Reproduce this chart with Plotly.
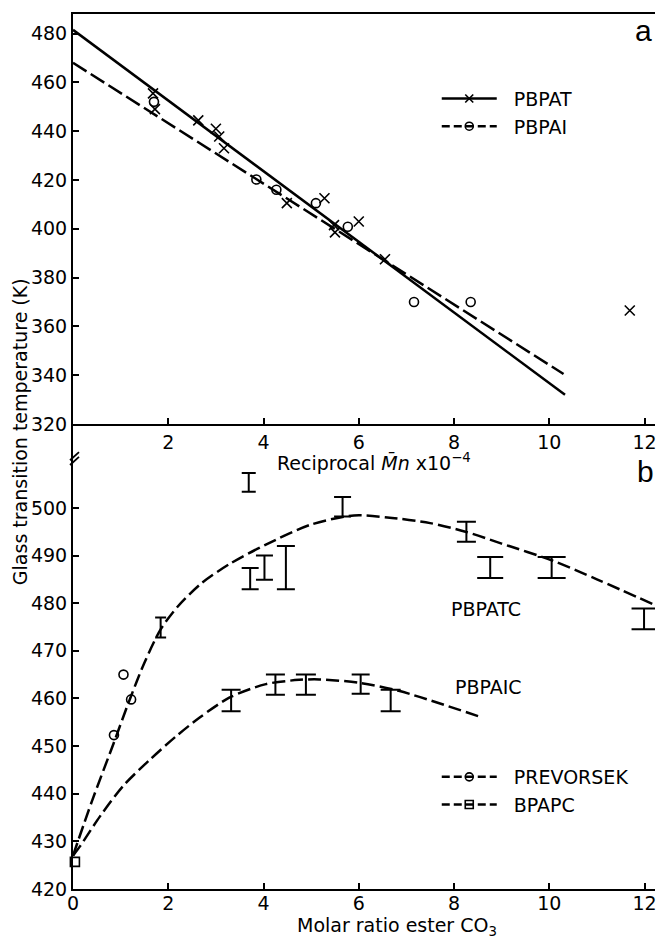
import plotly.graph_objects as go

# ---------------- Panel a : Tg vs reciprocal Mn ----------------
PBPAT_X = [1.68, 1.72, 2.63, 3.00, 3.07, 3.17, 4.49, 5.28, 5.48, 5.50, 6.00, 6.55, 11.69]
PBPAT_Y = [455.5, 449.0, 444.4, 441.0, 437.8, 433.0, 410.5, 412.5, 401.5, 398.5, 403.0, 387.5, 366.5]
PBPAI_X = [1.70, 3.85, 4.27, 5.10, 5.77, 7.16, 8.35]
PBPAI_Y = [452.0, 420.2, 416.0, 410.5, 400.8, 370.0, 370.0]
PBPAT_FIT_X = [0.0, 10.33]
PBPAT_FIT_Y = [481.5, 332.0]
PBPAI_FIT_X = [0.0, 10.30]
PBPAI_FIT_Y = [468.0, 340.5]

# ---------------- Panel b : Tg vs molar ratio ester/CO3 ----------------
PBPATC_X = [1.84, 3.69, 3.72, 4.02, 4.47, 5.66, 8.26, 8.76, 10.05, 11.99]
PBPATC_LO = [472.8, 503.4, 482.9, 484.9, 482.9, 498.2, 492.9, 485.3, 485.3, 474.5]
PBPATC_HI = [477.0, 507.3, 487.4, 490.0, 492.0, 502.3, 497.1, 489.7, 489.7, 478.9]
PBPAIC_X = [3.32, 4.25, 4.89, 6.04, 6.67]
PBPAIC_LO = [457.3, 460.8, 460.8, 461.0, 457.3]
PBPAIC_HI = [461.8, 465.0, 465.0, 465.0, 461.8]
PBPATC_CURVE_X = [0.0, 0.4, 0.85, 1.2, 1.5, 1.84, 2.2, 2.7, 3.3, 4.05, 5.0, 5.9, 6.6, 7.5, 8.24, 9.0, 10.05, 11.0, 12.22]
PBPATC_CURVE_Y = [427.0, 438.5, 450.5, 460.0, 467.5, 474.5, 479.3, 484.2, 488.3, 492.3, 496.5, 498.4, 498.0, 496.8, 495.0, 492.5, 489.0, 485.0, 479.6]
PBPAIC_CURVE_X = [0.0, 0.15, 0.57, 1.05, 1.62, 2.17, 2.66, 3.29, 4.05, 4.75, 5.17, 6.0, 6.84, 8.59]
PBPAIC_CURVE_Y = [427.0, 429.0, 435.3, 441.6, 447.2, 452.1, 456.0, 460.2, 463.0, 463.9, 464.0, 463.3, 461.6, 456.0]
PREVORSEK_X = [0.86, 1.06, 1.22]
PREVORSEK_Y = [452.3, 465.0, 459.8]
BPAPC_X = [0.04]
BPAPC_Y = [425.7]

# tick labels
A_XTICKS = [2, 4, 6, 8, 10, 12]
A_YTICKS = [320, 340, 360, 380, 400, 420, 440, 460, 480]
B_XTICKS = [0, 2, 4, 6, 8, 10, 12]
B_YTICKS = [420, 430, 440, 450, 460, 470, 480, 490, 500]

# styles (not data)
PBPATC_CAP = [5.5, 7, 8.5, 8.5, 9, 8.5, 9.5, 13, 14, 12.5]
PBPAIC_CAP = [9.5, 9.5, 10, 9, 10]

FONT = "DejaVu Sans"
BLACK = "black"
DASH_A = "16px,5px"
DASH_B = "13px,5px"
NB = "\u00a0\u00a0"

fig = go.Figure()

# ---- panel a
fig.add_trace(go.Scatter(x=PBPAT_FIT_X, y=PBPAT_FIT_Y, mode="lines",
                         line=dict(color=BLACK, width=2.5), showlegend=False,
                         xaxis="x", yaxis="y"))
fig.add_trace(go.Scatter(x=PBPAI_FIT_X, y=PBPAI_FIT_Y, mode="lines",
                         line=dict(color=BLACK, width=2.5, dash=DASH_A), showlegend=False,
                         xaxis="x", yaxis="y"))
fig.add_trace(go.Scatter(x=PBPAT_X, y=PBPAT_Y, mode="markers",
                         marker=dict(symbol="x-thin-open", size=10, color=BLACK,
                                     line=dict(color=BLACK, width=1.6)),
                         showlegend=False, xaxis="x", yaxis="y"))
fig.add_trace(go.Scatter(x=PBPAI_X, y=PBPAI_Y, mode="markers",
                         marker=dict(symbol="circle-open", size=9, color=BLACK,
                                     line=dict(color=BLACK, width=1.6)),
                         showlegend=False, xaxis="x", yaxis="y"))
# legend entries panel a
fig.add_trace(go.Scatter(x=[None], y=[None], mode="lines+markers", name=NB + "PBPAT",
                         line=dict(color=BLACK, width=2.5),
                         marker=dict(symbol="x-thin-open", size=8, color=BLACK,
                                     line=dict(color=BLACK, width=1.6)),
                         legend="legend", xaxis="x", yaxis="y"))
fig.add_trace(go.Scatter(x=[None], y=[None], mode="lines+markers", name=NB + "PBPAI",
                         line=dict(color=BLACK, width=2.5, dash="8px,4px"),
                         marker=dict(symbol="circle-open", size=8, color=BLACK,
                                     line=dict(color=BLACK, width=1.6)),
                         legend="legend", xaxis="x", yaxis="y"))

# ---- panel b
fig.add_trace(go.Scatter(x=PBPATC_CURVE_X, y=PBPATC_CURVE_Y, mode="lines",
                         line=dict(color=BLACK, width=2.5, dash=DASH_B, shape="spline", smoothing=0.8),
                         showlegend=False, xaxis="x2", yaxis="y2"))
fig.add_trace(go.Scatter(x=PBPAIC_CURVE_X, y=PBPAIC_CURVE_Y, mode="lines",
                         line=dict(color=BLACK, width=2.5, dash=DASH_B, shape="spline", smoothing=0.8),
                         showlegend=False, xaxis="x2", yaxis="y2"))

def add_bars(xs, los, his, caps):
    for x, lo, hi, cap in zip(xs, los, his, caps):
        mid = (lo + hi) / 2.0
        fig.add_trace(go.Scatter(
            x=[x], y=[mid], mode="markers",
            marker=dict(size=1, color="rgba(0,0,0,0)"),
            error_y=dict(type="data", symmetric=False, array=[hi - mid], arrayminus=[mid - lo],
                         color=BLACK, thickness=2, width=cap),
            showlegend=False, xaxis="x2", yaxis="y2"))

add_bars(PBPATC_X, PBPATC_LO, PBPATC_HI, PBPATC_CAP)
add_bars(PBPAIC_X, PBPAIC_LO, PBPAIC_HI, PBPAIC_CAP)

fig.add_trace(go.Scatter(x=PREVORSEK_X, y=PREVORSEK_Y, mode="markers",
                         marker=dict(symbol="circle-open", size=9, color=BLACK,
                                     line=dict(color=BLACK, width=1.6)),
                         showlegend=False, xaxis="x2", yaxis="y2"))
fig.add_trace(go.Scatter(x=BPAPC_X, y=BPAPC_Y, mode="markers", cliponaxis=False,
                         marker=dict(symbol="square-open", size=9, color=BLACK,
                                     line=dict(color=BLACK, width=1.6)),
                         showlegend=False, xaxis="x2", yaxis="y2"))
# legend entries panel b
fig.add_trace(go.Scatter(x=[None], y=[None], mode="lines+markers", name=NB + "PREVORSEK",
                         line=dict(color=BLACK, width=2.5, dash="8px,4px"),
                         marker=dict(symbol="circle-open", size=8, color=BLACK,
                                     line=dict(color=BLACK, width=1.6)),
                         legend="legend2", xaxis="x2", yaxis="y2"))
fig.add_trace(go.Scatter(x=[None], y=[None], mode="lines+markers", name=NB + "BPAPC",
                         line=dict(color=BLACK, width=2.5, dash="8px,4px"),
                         marker=dict(symbol="square-open", size=8, color=BLACK,
                                     line=dict(color=BLACK, width=1.6)),
                         legend="legend2", xaxis="x2", yaxis="y2"))

axis_common = dict(showline=True, linecolor=BLACK, linewidth=2, showgrid=False, zeroline=False,
                   ticks="inside", ticklen=6, tickwidth=1.5, tickcolor=BLACK,
                   ticklabeloverflow="allow",
                   tickfont=dict(family=FONT, size=19, color=BLACK))

XR = [0, 12.22]
fig.update_layout(
    width=657, height=940,
    margin=dict(l=73, r=0, t=14, b=51, pad=0),
    paper_bgcolor="white", plot_bgcolor="white",
    font=dict(family=FONT, size=19, color=BLACK),
    xaxis=dict(domain=[0, 1], range=XR, anchor="y", tickmode="array", tickvals=A_XTICKS,
               mirror=True, **axis_common),
    yaxis=dict(domain=[0.5314, 1], range=[320, 488], anchor="x", tickmode="array", tickvals=A_YTICKS,
               **axis_common),
    xaxis2=dict(domain=[0, 1], range=XR, anchor="y2", tickmode="array", tickvals=B_XTICKS,
                ticklabelstandoff=-4, **axis_common),
    yaxis2=dict(domain=[0, 0.5314], range=[420, 517.6], anchor="x2", tickmode="array", tickvals=B_YTICKS,
                **axis_common),
    legend=dict(x=0.625, y=0.925, xanchor="left", yanchor="top", bgcolor="rgba(0,0,0,0)",
                borderwidth=0, itemwidth=55, font=dict(family=FONT, size=19, color=BLACK),
                tracegroupgap=0),
    legend2=dict(x=0.625, y=0.1497, xanchor="left", yanchor="top", bgcolor="rgba(0,0,0,0)",
                 borderwidth=0, itemwidth=55, font=dict(family=FONT, size=19, color=BLACK),
                 tracegroupgap=0),
    showlegend=True,
)

ann = [
    dict(text="Reciprocal <i>M\u0304n</i> x10<sup>\u22124</sup>", xref="paper", yref="paper",
         x=0.517, y=0.488, showarrow=False, xanchor="center", yanchor="middle",
         font=dict(family=FONT, size=19)),
    dict(text="Molar ratio ester CO<sub>3</sub>", xref="paper", yref="paper",
         x=0.5565, y=-0.043, showarrow=False, xanchor="center", yanchor="middle",
         font=dict(family=FONT, size=19)),
    dict(text="Glass transition temperature (K)", xref="paper", yref="paper",
         x=-0.0908, y=0.5223, showarrow=False, xanchor="center", yanchor="middle", textangle=-90,
         font=dict(family=FONT, size=19)),
    dict(text="a", xref="paper", yref="paper", x=0.981, y=0.9817, showarrow=False,
         xanchor="center", yanchor="middle", font=dict(family="Liberation Sans", size=30)),
    dict(text="b", xref="paper", yref="paper", x=0.983, y=0.4777, showarrow=False,
         xanchor="center", yanchor="middle", font=dict(family="Liberation Sans", size=30)),
    dict(text="PBPATC", xref="x2", yref="y2", x=8.68, y=478.7, showarrow=False,
         xanchor="center", yanchor="middle", font=dict(family=FONT, size=19)),
    dict(text="PBPAIC", xref="x2", yref="y2", x=8.73, y=462.5, showarrow=False,
         xanchor="center", yanchor="middle", font=dict(family=FONT, size=19)),
]
fig.update_layout(annotations=ann)

# axis break marks "//" on the left axis between the panels
for y0 in (510.0, 509.0):
    fig.add_shape(type="line", xref="paper", yref="y2",
                  x0=-3 / 584, x1=6 / 584, y0=y0, y1=y0 + 1.7,
                  line=dict(color=BLACK, width=1.8))

fig.write_html("out.html")
